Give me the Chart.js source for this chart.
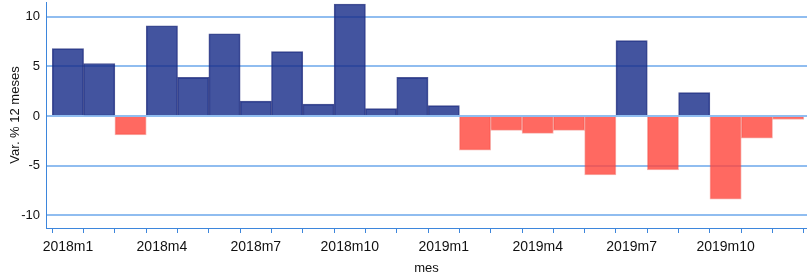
<!DOCTYPE html>
<html>
<head>
<meta charset="utf-8">
<script src="https://cdn.jsdelivr.net/npm/chart.js@4"></script>
<style>
  html, body { margin: 0; padding: 0; background: #fff; }
  #wrap { width: 807px; height: 276px; }
</style>
</head>
<body>
<div id="wrap"><canvas id="c" width="807" height="276"></canvas></div>
<script>
const months = ["2018m1","2018m2","2018m3","2018m4","2018m5","2018m6","2018m7","2018m8","2018m9","2018m10","2018m11","2018m12",
                "2019m1","2019m2","2019m3","2019m4","2019m5","2019m6","2019m7","2019m8","2019m9","2019m10","2019m11","2019m12"];
const values = [6.8, 5.3, -1.9, 9.1, 3.9, 8.3, 1.5, 6.5, 1.2, 11.3, 0.75, 3.9,
                1.05, -3.45, -1.45, -1.75, -1.45, -5.95, 7.6, -5.45, 2.35, -8.4, -2.25, -0.35];
const yTicks = [-10, -5, 0, 5, 10];
const labeledMonths = ["2018m1","2018m4","2018m7","2018m10","2019m1","2019m4","2019m7","2019m10"];

const posColor = 'rgba(26,46,138,0.82)';
const negColor = 'rgba(255,72,62,0.82)';
const posBorder = 'rgba(20,32,115,0.75)';
const negBorder = 'rgba(235,60,50,0.4)';

const points = months.map((m, i) => ({ x: i, y: values[i] }));

new Chart(document.getElementById('c'), {
  type: 'bar',
  data: {
    datasets: [{
      data: points,
      backgroundColor: values.map(v => v >= 0 ? posColor : negColor),
      borderColor: values.map(v => v >= 0 ? posBorder : negBorder),
      borderWidth: 1,
      barPercentage: 1,
      categoryPercentage: 1
    }]
  },
  options: {
    responsive: false,
    animation: false,
    layout: { padding: { top: 2, right: 0, left: 0, bottom: 0 } },
    plugins: { legend: { display: false }, tooltip: { enabled: false } },
    scales: {
      x: {
        type: 'linear',
        min: -0.7,
        max: 23.6,
        offset: false,
        afterFit: s => { s.height = 48; s.paddingLeft = 0; s.paddingRight = 0; },
        border: { display: true, color: '#3d86dc', width: 1 },
        grid: { drawOnChartArea: false, drawTicks: true, tickLength: 5, color: '#3d86dc', lineWidth: 1 },
        ticks: {
          stepSize: 1,
          includeBounds: false,
          autoSkip: false,
          maxRotation: 0,
          padding: 6,
          color: '#111',
          font: { family: 'Liberation Sans, Arial, sans-serif', size: 14 },
          callback: v => {
            const m = months[Math.round(v)];
            return labeledMonths.includes(m) ? m : '';
          }
        },
        title: {
          display: true,
          text: 'mes',
          color: '#111',
          font: { family: 'Liberation Sans, Arial, sans-serif', size: 13 },
          padding: { top: 2, bottom: 0 }
        }
      },
      y: {
        min: -11.3,
        max: 11.5,
        afterFit: s => { s.width = 46; s.paddingTop = 0; s.paddingBottom = 0; },
        afterBuildTicks: s => { s.ticks = yTicks.map(v => ({ value: v })); },
        border: { display: true, color: '#3d86dc', width: 1 },
        grid: { drawTicks: false, color: 'rgba(70,145,230,0.6)', lineWidth: 2 },
        ticks: {
          padding: 6,
          color: '#111',
          font: { family: 'Liberation Sans, Arial, sans-serif', size: 13 }
        },
        title: {
          display: true,
          text: 'Var. % 12 meses',
          color: '#111',
          font: { family: 'Liberation Sans, Arial, sans-serif', size: 13 },
          padding: { top: 8, bottom: 0 }
        }
      }
    }
  }
});
</script>
</body>
</html>
